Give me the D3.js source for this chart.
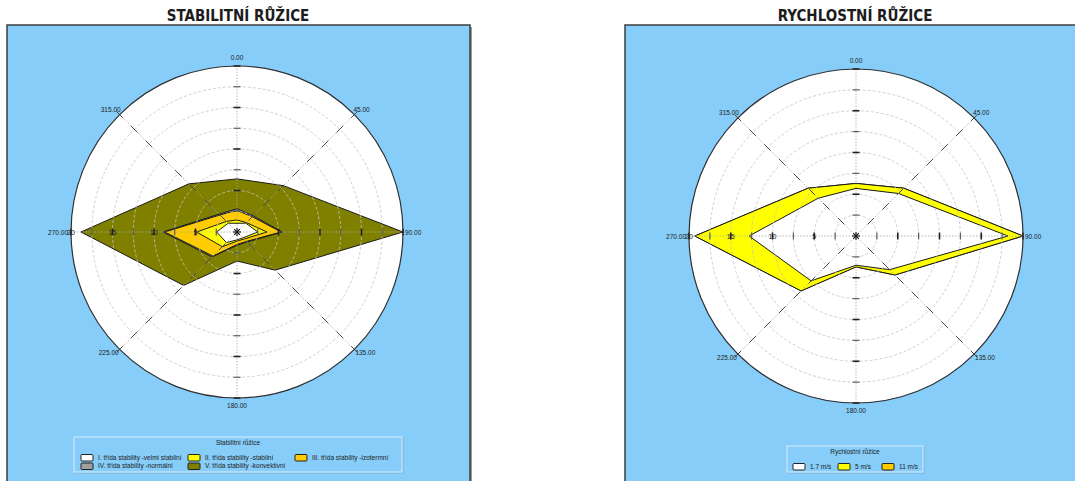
<!DOCTYPE html>
<html>
<head>
<meta charset="utf-8">
<script src="https://cdn.jsdelivr.net/npm/d3@7"></script>
<style>
  html, body { margin: 0; padding: 0; background: #ffffff; }
  svg { display: block; }
  text { font-family: "Liberation Sans", Arial, sans-serif; }
</style>
</head>
<body>
<svg id="chart" width="1075" height="481"></svg>
<script>
// ---------- DATA ----------
const directions = [0, 45, 90, 135, 180, 225, 270, 315];
const directionLabels = ["0.00", "45.00", "90.00", "135.00", "180.00", "225.00", "270.00", "315.00"];
const radialTickValues = [2.5, 5, 7.5, 10, 12.5, 15, 17.5, 20];
const radialLabelValues = [5, 10, 15, 20];

// Stabilitní růžice (per class, per direction N, NE, E, SE, S, SW, W, NW)
const stabilityNames = [
  "I. třída stability -velmi stabilní",
  "II. třída stability -stabilní",
  "III. třída stability -izotermní",
  "IV. třída stability -normální",
  "V. třída stability -konvektivní"
];
const classI   = [1.05, 1.5, 2.5, 1.0, 0.95, 1.8, 2.45, 1.5];
const classII  = [0.4, 0.1, 1.1, 0.2, 0.15, 0.7, 2.4, 0.3];
const classIII = [1.15, 1.0, 1.7, 0.4, 0.4, 1.6, 3.85, 1.1];
const classIV  = [0.2, 0.15, 0.15, 0.1, 0.1, 0.15, 0.2, 0.15];
const classV   = [3.6, 5.15, 14.55, 4.8, 1.9, 4.85, 9.9, 5.15];

// Rychlostní růžice
const speedNames = ["1.7 m/s", "5 m/s", "11 m/s"];
const speed17 = [5.7, 7.2, 18.2, 5.7, 3.5, 7.6, 12.8, 6.4];
const speed5  = [0.6, 0.9, 1.8, 0.9, 0.2, 1.7, 6.5, 1.7];
const speed11 = [0.0, 0.0, 0.0, 0.0, 0.0, 0.0, 0.0, 0.0];

const stabilityColors = ["#ffffff", "#ffff00", "#ffcc00", "#a0a0a0", "#808000"];
const speedColors = ["#ffffff", "#ffff00", "#ffcc00"];

// ---------- DRAWING ----------
const svg = d3.select("#chart");
const panelFill = "#87cdf9";

function panel(x, y, w, h, title, titleX) {
  svg.append("rect").attr("x", x + 2).attr("y", y + 2).attr("width", w).attr("height", h)
    .attr("fill", "#9a9a9a");
  svg.append("rect").attr("x", x).attr("y", y).attr("width", w).attr("height", h)
    .attr("fill", panelFill).attr("stroke", "#3c3c3c").attr("stroke-width", 1.5);
  svg.append("text").attr("x", titleX).attr("y", 21).attr("text-anchor", "middle")
    .style("font-size", "15px").style("font-weight", "bold").style("font-family", "'DejaVu Sans Condensed', 'Liberation Sans', sans-serif")
    .attr("fill", "#1c1c1c").text(title);
}

function rose(opts) {
  const { cx, cy, R, names, seriesArrays, colors } = opts;
  const g = svg.append("g").attr("transform", `translate(${cx},${cy})`);
  const r = d3.scaleLinear().domain([0, 20]).range([0, R]);
  const ang = d3.scaleLinear().domain([0, 360]).range([0, 2 * Math.PI]);

  // background disk
  g.append("circle").attr("r", r(20)).attr("fill", "#ffffff");

  // stacked data
  const rows = directions.map((d, i) => {
    const o = { dir: d };
    names.forEach((n, k) => { o[n] = seriesArrays[k][i]; });
    return o;
  });
  const stacked = d3.stack().keys(names)(rows);
  const line = d3.lineRadial()
    .angle(p => ang(p.data.dir))
    .radius(p => r(p[1]))
    .curve(d3.curveLinearClosed);

  for (let k = stacked.length - 1; k >= 0; k--) {
    g.append("path").attr("d", line(stacked[k]))
      .attr("fill", colors[k]).attr("stroke", "#1a1a1a").attr("stroke-width", 1)
      .attr("stroke-linejoin", "miter");
  }

  // dashed rings
  g.selectAll("circle.ring").data(radialTickValues.slice(0, -1)).enter().append("circle")
    .attr("class", "ring").attr("r", d => r(d)).attr("fill", "none")
    .attr("stroke", "#c4c4c4").attr("stroke-width", 0.8).attr("stroke-dasharray", "3,2");

  // spokes
  directions.forEach(d => {
    const a = ang(d);
    const diag = d % 90 !== 0;
    g.append("line").attr("x1", 0).attr("y1", 0)
      .attr("x2", r(20) * Math.sin(a)).attr("y2", -r(20) * Math.cos(a))
      .attr("stroke", "#a8a8a8").attr("stroke-width", 0.8).attr("stroke-dasharray", "1.5,1.5");
    radialTickValues.forEach((t, ti) => {
      const rr = r(t);
      const px = rr * Math.sin(a), py = -rr * Math.cos(a);
      const major = (ti % 2 === 1);
      if (diag) {
        const L = 4.5;
        g.append("line")
          .attr("x1", px - L * Math.sin(a)).attr("y1", py + L * Math.cos(a))
          .attr("x2", px + L * Math.sin(a)).attr("y2", py - L * Math.cos(a))
          .attr("stroke", "#4a4a4a").attr("stroke-width", 1);
      } else {
        const L = 3.5;
        const nx = Math.cos(a), ny = Math.sin(a);
        g.append("line")
          .attr("x1", px - L * nx).attr("y1", py - L * ny)
          .attr("x2", px + L * nx).attr("y2", py + L * ny)
          .attr("stroke", major ? "#222" : "#555").attr("stroke-width", major ? 1.6 : 1.1);
      }
    });
  });

  // outer circle
  g.append("circle").attr("r", r(20)).attr("fill", "none").attr("stroke", "#303030").attr("stroke-width", 1.2);

  // radial labels on the west axis
  g.selectAll("text.rl").data(radialLabelValues).enter().append("text")
    .attr("class", "rl").attr("x", d => -r(d)).attr("y", 2.5)
    .attr("text-anchor", "middle").style("font-size", "7px").attr("fill", "#222")
    .text(d => d);

  // direction labels
  directions.forEach((d, i) => {
    const a = ang(d);
    const ex = r(20) * Math.sin(a), ey = -r(20) * Math.cos(a);
    let x = ex, y = ey, anchor = "middle";
    if (d === 0) { y = ey - 6; }
    else if (d === 180) { y = ey + 10; }
    else if (d === 90) { x = ex + 2; y = 2.5; anchor = "start"; }
    else if (d === 270) { x = ex - 3; y = 2.5; anchor = "end"; }
    else if (d === 45) { x = ex - 1; y = ey - 3; anchor = "start"; }
    else if (d === 315) { x = ex + 1; y = ey - 3; anchor = "end"; }
    else if (d === 135) { x = ex + 1; y = ey + 6; anchor = "start"; }
    else if (d === 225) { x = ex - 1; y = ey + 6; anchor = "end"; }
    g.append("text").attr("x", x).attr("y", y).attr("text-anchor", anchor)
      .style("font-size", "6.5px").attr("fill", "#222").text(directionLabels[i]);
  });

  // center star
  [0, 45, 90, 135].forEach(d => {
    const a = ang(d), L = 4;
    g.append("line").attr("x1", -L * Math.sin(a)).attr("y1", L * Math.cos(a))
      .attr("x2", L * Math.sin(a)).attr("y2", -L * Math.cos(a))
      .attr("stroke", "#111").attr("stroke-width", 1.1);
  });
}

function legend(opts) {
  const { x, y, w, h, title, names, colors, cols, rowY, textOffset } = opts;
  svg.append("rect").attr("x", x + 1).attr("y", y + 1).attr("width", w).attr("height", h)
    .attr("fill", "none").attr("stroke", "#6f9cc0").attr("stroke-width", 1).attr("opacity", 0.6);
  svg.append("rect").attr("x", x).attr("y", y).attr("width", w).attr("height", h)
    .attr("fill", panelFill).attr("stroke", "#d8ebf8").attr("stroke-width", 1);
  svg.append("text").attr("x", x + w / 2).attr("y", y + 7.5).attr("text-anchor", "middle")
    .style("font-size", "6.5px").attr("fill", "#222").text(title);
  names.forEach((n, i) => {
    const c = cols[i % cols.length];
    const ry = rowY[Math.floor(i / cols.length)];
    svg.append("rect").attr("x", c).attr("y", ry - 3).attr("width", 12).attr("height", 6.5)
      .attr("rx", 1).attr("fill", colors[i]).attr("stroke", "#222").attr("stroke-width", 1);
    svg.append("text").attr("x", c + textOffset).attr("y", ry + 2.3)
      .style("font-size", "6.5px").attr("fill", "#222").text(n);
  });
}

panel(7, 25, 463, 470, "STABILITNÍ RŮŽICE", 238);
panel(625, 25, 463, 470, "RYCHLOSTNÍ RŮŽICE", 855);

rose({ cx: 237, cy: 232, R: 166, names: stabilityNames,
  seriesArrays: [classI, classII, classIII, classIV, classV], colors: stabilityColors });
rose({ cx: 856, cy: 236, R: 167, names: speedNames,
  seriesArrays: [speed17, speed5, speed11], colors: speedColors });

legend({ x: 74, y: 437, w: 328, h: 35, title: "Stabilitní růžice", names: stabilityNames,
  colors: stabilityColors, cols: [81, 188, 295], rowY: [457.5, 466], textOffset: 17 });
legend({ x: 787, y: 446, w: 136, h: 26, title: "Rychlostní růžice", names: speedNames,
  colors: speedColors, cols: [793, 838, 882], rowY: [466.5], textOffset: 17 });
</script>
</body>
</html>
